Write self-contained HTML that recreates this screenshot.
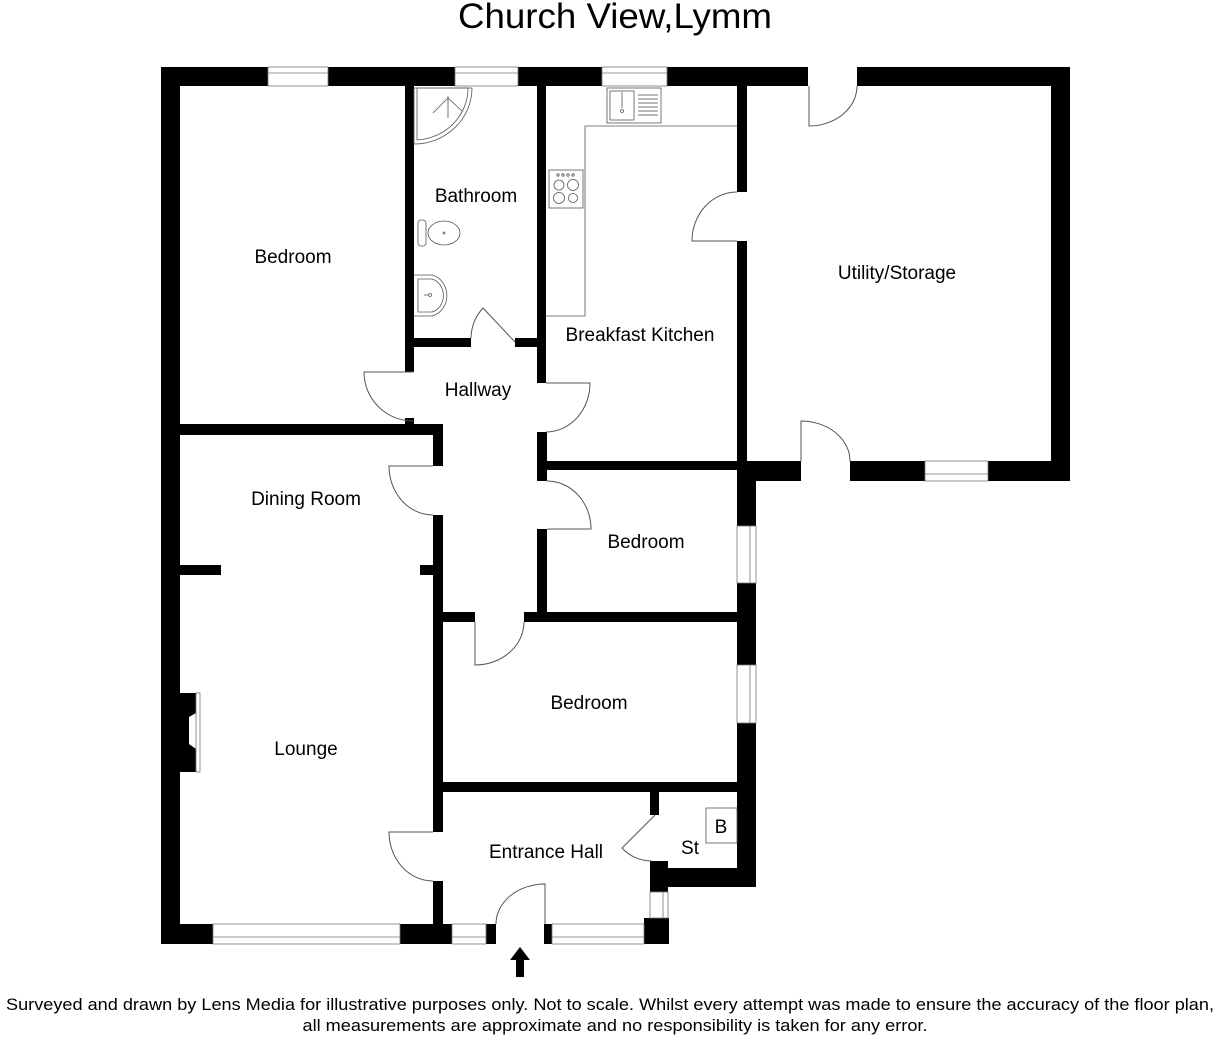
<!DOCTYPE html>
<html><head><meta charset="utf-8"><style>
html,body{margin:0;padding:0;background:#fff}
svg{display:block}
text{font-family:"Liberation Sans",Arial,sans-serif;fill:#000}
</style></head><body>
<svg width="1216" height="1040" viewBox="0 0 1216 1040" xmlns="http://www.w3.org/2000/svg">
<rect width="1216" height="1040" fill="#fff"/>
<text x="615" y="28" font-size="35" text-anchor="middle" textLength="314" lengthAdjust="spacingAndGlyphs">Church View,Lymm</text>

<g fill="#000">
<!-- outer top -->
<rect x="161" y="67" width="647" height="19"/>
<rect x="857" y="67" width="213" height="19"/>
<!-- left -->
<rect x="161" y="67" width="19" height="877"/>
<!-- bottom -->
<rect x="161" y="924" width="52" height="20"/>
<rect x="400" y="924" width="52" height="20"/>
<rect x="486" y="924" width="10" height="20"/>
<rect x="544" y="924" width="8" height="20"/>
<rect x="644" y="918" width="25" height="26"/>
<!-- utility -->
<rect x="1051" y="67" width="19" height="414"/>
<rect x="737" y="461" width="64" height="20"/>
<rect x="850" y="461" width="220" height="20"/>
<rect x="737" y="86" width="10" height="106"/>
<rect x="737" y="241" width="10" height="225"/>
<!-- right exterior lower -->
<rect x="737" y="461" width="19" height="426"/>
<rect x="650" y="868" width="106" height="19"/>
<rect x="650" y="861" width="18" height="31"/>
<rect x="650" y="792" width="9" height="23"/>
<!-- bedroom/bathroom wall -->
<rect x="405" y="86" width="9" height="286"/>
<rect x="405" y="418" width="9" height="10"/>
<!-- bathroom bottom -->
<rect x="405" y="338" width="66" height="9"/>
<rect x="515" y="338" width="31" height="9"/>
<!-- kitchen left wall -->
<rect x="537" y="86" width="9" height="297"/>
<rect x="537" y="432" width="10" height="49"/>
<rect x="537" y="529" width="10" height="93"/>
<!-- kitchen bottom -->
<rect x="537" y="461" width="210" height="9"/>
<!-- bedroom1 bottom -->
<rect x="180" y="424" width="263" height="11"/>
<!-- hallway left wall -->
<rect x="433" y="424" width="10" height="42"/>
<rect x="433" y="515" width="10" height="317"/>
<rect x="433" y="881" width="10" height="45"/>
<!-- bedroom2 bottom -->
<rect x="443" y="612" width="32" height="10"/>
<rect x="524" y="612" width="213" height="10"/>
<!-- bedroom3 bottom -->
<rect x="443" y="782" width="294" height="10"/>
<!-- lounge stubs -->
<rect x="180" y="565" width="41" height="10"/>
<rect x="420" y="565" width="13" height="10"/>
<!-- fireplace -->
<path d="M180 693 H196 V713 L189 717 V744 L196 749 V772 H180 Z"/>
</g>
<rect x="196" y="693" width="4" height="79" fill="#fff" stroke="#777" stroke-width="0.8"/>

<!-- windows -->
<g fill="#fff" stroke="#777" stroke-width="0.8">
<rect x="268" y="67" width="60" height="19"/><line x1="268" y1="73" x2="328" y2="73"/>
<rect x="455" y="67" width="63" height="19"/><line x1="455" y1="73" x2="518" y2="73"/>
<rect x="602" y="67" width="65" height="19"/><line x1="602" y1="73" x2="667" y2="73"/>
<rect x="925" y="461" width="63" height="20"/><line x1="925" y1="474" x2="988" y2="474"/>
<rect x="213" y="924" width="187" height="20"/><line x1="213" y1="937" x2="400" y2="937"/>
<rect x="452" y="924" width="34" height="20"/><line x1="452" y1="937" x2="486" y2="937"/>
<rect x="552" y="924" width="92" height="20"/><line x1="552" y1="937" x2="644" y2="937"/>
<rect x="650" y="892" width="18" height="26"/><line x1="663" y1="892" x2="663" y2="918"/>
<rect x="737" y="526" width="19" height="57"/><line x1="750" y1="526" x2="750" y2="583"/>
<rect x="737" y="665" width="19" height="58"/><line x1="750" y1="665" x2="750" y2="723"/>
</g>

<!-- doors -->
<g fill="none" stroke="#555" stroke-width="1">
<path d="M809 86 V126 A48 40 0 0 0 857 86"/>
<path d="M801 461 V421 A49 40 0 0 1 850 461"/>
<path d="M737 192 A45 49 0 0 0 692 241 H737"/>
<path d="M413 372 H364 A49 49 0 0 0 413 421"/>
<path d="M546 383 H590 A44 49 0 0 1 546 432"/>
<path d="M515 342 L483 308 A46 46 0 0 0 471 338"/>
<path d="M433 466 H389 A44 49 0 0 0 433 515"/>
<path d="M547 481 A44 48 0 0 1 591 529 H547"/>
<path d="M475 622 V665 A49 43 0 0 0 524 622"/>
<path d="M433 832 H389 A44 49 0 0 0 433 881"/>
<path d="M545 924 V884 A49 40 0 0 0 496 924"/>
<path d="M655 815 L622 848 A40 40 0 0 0 652 861"/>
</g>

<!-- kitchen fittings -->
<g fill="none" stroke="#555" stroke-width="0.8">
<path d="M546 316 H585 V126 H737"/>
<rect x="607" y="88" width="54" height="35"/>
<rect x="610" y="91" width="24" height="29"/>
<line x1="622" y1="92" x2="622" y2="108"/>
<circle cx="622" cy="111" r="1.5"/>
<g stroke="#444"><line x1="638" y1="95" x2="658" y2="95"/><line x1="638" y1="99" x2="658" y2="99"/><line x1="638" y1="103" x2="658" y2="103"/><line x1="638" y1="107" x2="658" y2="107"/><line x1="638" y1="111" x2="658" y2="111"/><line x1="638" y1="115" x2="658" y2="115"/></g>
<rect x="549" y="170" width="34" height="38"/>
<circle cx="559" cy="185" r="5"/><circle cx="573" cy="185" r="5.5"/>
<circle cx="559" cy="198" r="5.5"/><circle cx="573" cy="198" r="4.5"/>
<circle cx="558" cy="175" r="1.2"/><circle cx="563" cy="175" r="1.2"/><circle cx="568" cy="175" r="1.2"/><circle cx="573" cy="175" r="1.2"/>
<!-- shower -->
<path d="M414 88 H472 A58 56 0 0 1 414 144 Z"/>
<path d="M417 88 H468 A54 52 0 0 1 417 140 Z"/>
<path d="M448 96 V118 M448 98 L433 113 M448 98 L462 111"/>
<!-- toilet -->
<rect x="418" y="220" width="8" height="26" rx="3"/>
<ellipse cx="444" cy="233" rx="16" ry="12"/>
<circle cx="444" cy="233" r="1"/>
<!-- basin -->
<path d="M414 275 H432 A19 21 0 0 1 432 316 H414"/>
<path d="M418 279 H432 A15 17 0 0 1 432 312 H418 Z"/>
<circle cx="430" cy="295" r="1.5"/><line x1="424" y1="295" x2="428" y2="295"/>
<!-- boiler -->
<rect x="706" y="808" width="31" height="35"/>
</g>

<!-- arrow -->
<path d="M520 947 L530 960 H524 V977 H516 V960 H510 Z" fill="#000"/>

<g font-size="19" text-anchor="middle">
<text x="293" y="263">Bedroom</text>
<text x="476" y="202">Bathroom</text>
<text x="640" y="341">Breakfast Kitchen</text>
<text x="897" y="279">Utility/Storage</text>
<text x="478" y="396">Hallway</text>
<text x="306" y="505">Dining Room</text>
<text x="646" y="548">Bedroom</text>
<text x="589" y="709">Bedroom</text>
<text x="306" y="755">Lounge</text>
<text x="546" y="858">Entrance Hall</text>
<text x="690" y="854">St</text>
<text x="721" y="833">B</text>
</g>

<text x="610" y="1010" font-size="17" text-anchor="middle" textLength="1208" lengthAdjust="spacingAndGlyphs">Surveyed and drawn by Lens Media for illustrative purposes only. Not to scale. Whilst every attempt was made to ensure the accuracy of the floor plan,</text>
<text x="615" y="1031" font-size="17" text-anchor="middle" textLength="625" lengthAdjust="spacingAndGlyphs">all measurements are approximate and no responsibility is taken for any error.</text>
</svg>
</body></html>
